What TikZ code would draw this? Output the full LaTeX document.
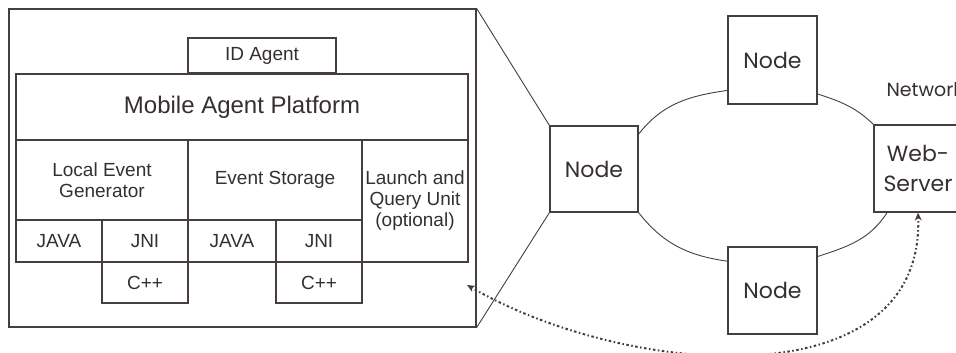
\documentclass[tikz,border=0pt]{standalone}
\usepackage{fontspec}
\setmainfont{Liberation Sans}
\newfontfamily\netfont{Poppins}
\usetikzlibrary{positioning,arrows.meta}
\definecolor{boxline}{HTML}{463E3E}
\definecolor{boxtext}{HTML}{352F2F}

\begin{document}
\begin{tikzpicture}[x=1pt,y=1pt,
  unit/.style={draw=boxline,line width=1.2pt,inner sep=0pt,align=center,text=boxtext,font=\fontsize{19}{21}\selectfont},
  site/.style={draw=boxline,line width=1.2pt,inner sep=0pt,align=center,text=boxtext,font=\netfont\fontsize{22}{30}\selectfont},
  ring/.style={draw=boxline,line width=0.9pt},
  hop/.style={boxline,line width=2pt,dash pattern=on 1.5pt off 2.5pt on 2.5pt off 2.5pt,{Stealth[length=8pt,width=7pt]}-{Stealth[length=8pt,width=7pt]}}]
\useasboundingbox (0,0) rectangle (956,353);
% host node, opened up
\node[unit,minimum width=467pt,minimum height=318pt] (host) at (242.5,185) {};
\node[unit,minimum width=148pt,minimum height=35pt] (idagent) at (262,297.5) {ID Agent};
\node[unit,minimum width=452pt,minimum height=66pt,font=\fontsize{24}{26}\selectfont] (map) at (242,246) {Mobile Agent Platform};
\node[unit,minimum width=172pt,minimum height=80pt] (leg) at (102,173) {Local Event\\Generator};
\node[unit,minimum width=174pt,minimum height=80pt] (evs) at (275,173) {Event Storage};
\node[unit,minimum width=106pt,minimum height=122pt] (lqu) at (415,152) {Launch and\\Query Unit\\(optional)};
\foreach \x/\w/\lab/\nm in {59/86/JAVA/javaA,145/86/JNI/jniA,232/88/JAVA/javaB,319/86/JNI/jniB}{
  \node[unit,minimum width=\w pt,minimum height=42pt] (\nm) at (\x,112) {\lab};
}
\node[unit,minimum width=86pt,minimum height=41pt] (cppA) at (145,70.5) {C++};
\node[unit,minimum width=86pt,minimum height=41pt] (cppB) at (319,70.5) {C++};
\coordinate (qry) at (467,68);

% network
\node[site,minimum width=88pt,minimum height=86pt] (nl) at (594,184) {Node};
\node[site,minimum width=89pt,minimum height=88pt] (nt) at (772.5,293) {Node};
\node[site,minimum width=89pt,minimum height=87pt] (nb) at (772.5,62.5) {Node};
\node[site,minimum width=88pt,minimum height=87pt] (ws) at (918,184.5) {Web-\\Server};
\node[anchor=base west,text=boxtext,font=\netfont\fontsize{19}{22}\selectfont] (netlbl) at (883,256) {Network};

\draw[ring] (host.north east) -- (nl.north west);
\draw[ring] (host.south east) -- (nl.south west);
\draw[ring] (nl.38) to[out=52,in=188] (nt.214);
\draw[ring] (nt.-37) to[out=-18,in=136] (ws.north west);
\draw[ring] (ws.235) to[out=237,in=18] (nb.37);
\draw[ring] (nb.147) to[out=172,in=308] (nl.south east);

\draw[hop] (qry) to[out=-30,in=-88,looseness=1.05] (ws.south);
\end{tikzpicture}
\end{document}
